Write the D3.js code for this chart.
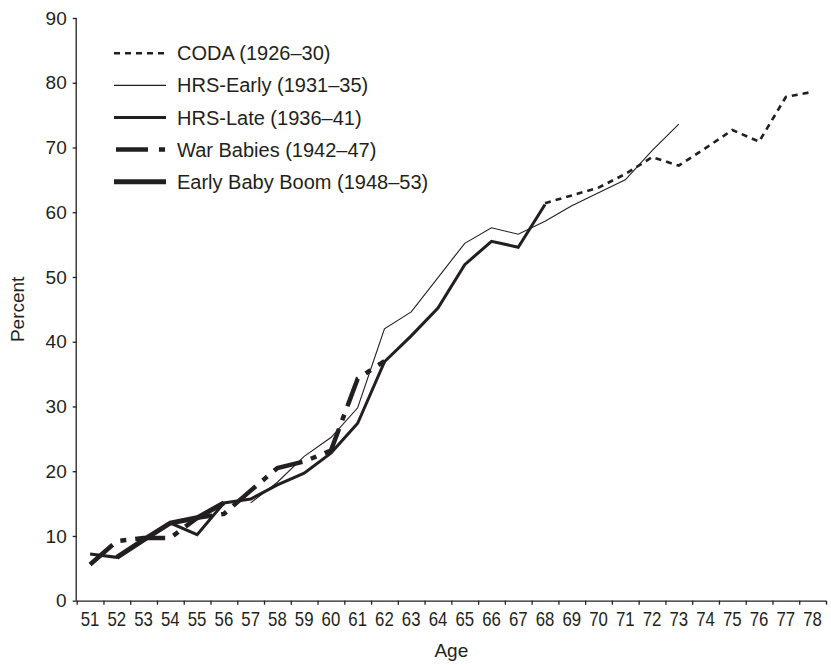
<!DOCTYPE html>
<html>
<head>
<meta charset="utf-8">
<script src="https://cdn.jsdelivr.net/npm/d3@7"></script>
<style>
    body { margin: 0; padding: 0; background: #fff; }
    svg { display: block; font-family: "Liberation Sans", Arial, Helvetica, sans-serif; }
</style>
</head>
<body>
<div id="main"></div>
<script>
// categories and tick labels
const ages = [51, 52, 53, 54, 55, 56, 57, 58, 59, 60, 61, 62, 63, 64, 65, 66, 67, 68, 69, 70, 71, 72, 73, 74, 75, 76, 77, 78];
const yTicks = [0, 10, 20, 30, 40, 50, 60, 70, 80, 90];

// series values
const codaAges = [68, 69, 70, 71, 72, 73, 74, 75, 76, 77, 78];
const codaValues = [61.4, 62.6, 63.8, 65.9, 68.5, 67.2, 69.9, 72.7, 70.9, 77.8, 78.6];

const hrsEarlyAges = [57, 58, 59, 60, 61, 62, 63, 64, 65, 66, 67, 68, 69, 70, 71, 72, 73];
const hrsEarlyValues = [15.1, 18.3, 22.3, 25.2, 29.8, 42.0, 44.6, 49.9, 55.2, 57.6, 56.6, 58.6, 61.0, 63.0, 65.0, 69.5, 73.6];

const hrsLateAges = [51, 52, 53, 54, 55, 56, 57, 58, 59, 60, 61, 62, 63, 64, 65, 66, 67, 68];
const hrsLateValues = [7.2, 6.7, 9.4, 12.0, 10.2, 15.1, 15.7, 17.9, 19.7, 22.8, 27.4, 36.9, 40.9, 45.2, 51.9, 55.5, 54.6, 61.2];

const warBabiesAges = [51, 52, 53, 54, 55, 56, 57, 58, 59, 60, 61, 62];
const warBabiesValues = [5.6, 9.2, 9.7, 9.7, 12.8, 13.4, 17.0, 20.5, 21.5, 23.2, 34.3, 37.0];

const earlyBoomAges = [52, 53, 54, 55, 56];
const earlyBoomValues = [6.7, 9.4, 12.0, 12.8, 15.1];

const seriesNames = ['CODA (1926\u201330)', 'HRS-Early (1931\u201335)', 'HRS-Late (1936\u201341)', 'War Babies (1942\u201347)', 'Early Baby Boom (1948\u201353)'];

const INK = '#231f20';
const WIDTH = 831;
const HEIGHT = 665;
const LEFT = 76.7;
const RIGHT = 826;
const TOP = 18;
const BOTTOM = 600.7;

const seriesList = [
    {name: seriesNames[0], ages: codaAges, values: codaValues, width: 2.6, dash: '6,5', legendDash: '6,5'},
    {name: seriesNames[1], ages: hrsEarlyAges, values: hrsEarlyValues, width: 1.1, dash: null, legendDash: null},
    {name: seriesNames[2], ages: hrsLateAges, values: hrsLateValues, width: 3, dash: null, legendDash: null},
    {name: seriesNames[3], ages: warBabiesAges, values: warBabiesValues, width: 4.5, dash: '30,9,6,9', legendDash: '32,11,6,11'},
    {name: seriesNames[4], ages: earlyBoomAges, values: earlyBoomValues, width: 5, dash: null, legendDash: null}
];

const svg = d3.select('#main').append('svg').attr('width', WIDTH).attr('height', HEIGHT);

const scaleX = d3.scaleBand().domain(ages).range([LEFT, RIGHT]).padding(0);
const scaleEdge = d3.scaleLinear().domain([0, ages.length]).range([LEFT, RIGHT]);
const scaleY = d3.scaleLinear().domain([0, 90]).range([BOTTOM, TOP]);
const px = (a) => scaleX(a) + scaleX.bandwidth() / 2;

// y axis
const axisY = d3.axisLeft(scaleY).tickValues(yTicks).tickSize(4).tickPadding(6);
const gy = svg.append('g').attr('transform', `translate(${LEFT},0)`).call(axisY);
gy.select('.domain').attr('d', `M-0.5,${TOP}V${BOTTOM}`);

// x axis: tick marks between categories, labels at band centres
const axisEdges = d3.axisBottom(scaleEdge).tickValues(d3.range(ages.length + 1)).tickSize(4).tickFormat('');
const gEdges = svg.append('g').attr('transform', `translate(0,${BOTTOM})`).call(axisEdges);
gEdges.select('.domain').attr('d', `M${LEFT},0.5H${RIGHT}`);
const axisLabels = d3.axisBottom(scaleX).tickSize(0).tickPadding(11);
const gx = svg.append('g').attr('transform', `translate(0,${BOTTOM})`).call(axisLabels);
gx.select('.domain').remove();
gx.selectAll('text').attr('transform', 'scale(0.84,1)');

svg.selectAll('.domain, .tick line').attr('stroke', INK).attr('stroke-width', 1.3);
svg.selectAll('.tick text').attr('fill', INK).attr('font-size', 19).attr('font-family', '"Liberation Sans", Arial, sans-serif');
gx.selectAll('text').attr('font-size', 20);

// axis titles
svg.append('text').text('Age').attr('x', (LEFT + RIGHT) / 2).attr('y', 657)
    .attr('text-anchor', 'middle').attr('font-size', 19).attr('fill', INK);
svg.append('text').text('Percent').attr('transform', `translate(24,${(TOP + BOTTOM) / 2}) rotate(-90)`)
    .attr('text-anchor', 'middle').attr('font-size', 19).attr('fill', INK);

// lines
const line = d3.line().x((d) => px(d.age)).y((d) => scaleY(d.value));
svg.append('g').selectAll('path').data(seriesList).enter().append('path')
    .attr('d', (s) => line(s.ages.map((a, i) => ({age: a, value: s.values[i]}))))
    .attr('fill', 'none')
    .attr('stroke', INK)
    .attr('stroke-width', (s) => s.width)
    .attr('stroke-dasharray', (s) => s.dash)
    .attr('stroke-linejoin', 'miter');

// legend
const legend = svg.append('g').selectAll('g').data(seriesList).enter().append('g')
    .attr('transform', (s, i) => `translate(0,${53.3 + i * 32.1})`);
legend.append('line')
    .attr('x1', (s) => s.legendDash === '32,11,6,11' ? 116 : 114).attr('x2', 166).attr('y1', 0).attr('y2', 0)
    .attr('stroke', INK)
    .attr('stroke-width', (s) => s.width)
    .attr('stroke-dasharray', (s) => s.legendDash);
legend.append('text').text((s) => s.name)
    .attr('x', 177).attr('y', 7).attr('font-size', 20).attr('fill', INK);
</script>
</body>
</html>
